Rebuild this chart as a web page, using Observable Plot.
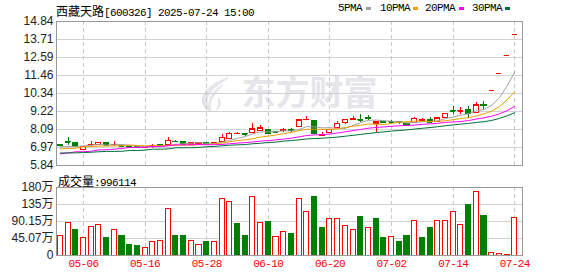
<!DOCTYPE html>
<html><head><meta charset="utf-8">
<script src="https://cdn.jsdelivr.net/npm/d3@7"></script>
<script src="https://cdn.jsdelivr.net/npm/@observablehq/plot@0.6"></script>
<style>
body{margin:0;background:#fff;}
#wrap{position:relative;width:578px;height:276px;overflow:hidden;background:#fff;}
.t{position:absolute;white-space:nowrap;font:11px "Liberation Mono",monospace;letter-spacing:-0.6px;color:#000;line-height:12px;}
.cjk{font:12px "Noto Sans CJK SC";letter-spacing:0;}
.sq{position:absolute;width:5px;height:3px;}
#price,#vol{position:absolute;left:0;}
#logo{position:absolute;left:199px;top:75px;}
</style></head><body>
<div id="wrap">
  <svg id="logo" width="34" height="38" viewBox="0 0 34 38">
    <path d="M30 1 C 20 6, 4 12, 3 24 C 2 32, 8 37, 13 37 C 10 31, 12 24, 17 19 C 22 13, 27 8, 30 1 Z" fill="#e5e5ea"/>
    <path d="M27 6 C 18 12, 9 18, 9 28" stroke="#ffffff" stroke-width="1.6" fill="none"/>
    <path d="M29 4 C 24 12, 15 18, 14 30" stroke="#ffffff" stroke-width="1.2" fill="none"/>
    <path d="M19 22 C 24 26, 22 33, 16 37 C 20 31, 19 27, 19 22 Z" fill="#e5e5ea"/>
  </svg>
  <div id="price" style="top:0"></div>
  <div id="vol" style="top:166px"></div>
  <div class="t" id="title" style="left:56px;top:2px"></div>
  <div class="t" id="volTitle" style="left:58px;top:172px"></div>
</div>
<script>
// ---------- data ----------
const stockName = "西藏天路";
const stockCode = "[600326] 2025-07-24 15:00";
const volLabel = "成交量";
const lastVolume = "996114";
const dates = ["04-28","04-29","04-30","05-06","05-07","05-08","05-09","05-12","05-13","05-14",
"05-15","05-16","05-19","05-20","05-21","05-22","05-23","05-26","05-27","05-28",
"05-29","05-30","06-03","06-04","06-05","06-06","06-09","06-10","06-11","06-12",
"06-13","06-16","06-17","06-18","06-19","06-20","06-23","06-24","06-25","06-26",
"06-27","06-30","07-01","07-02","07-03","07-04","07-07","07-08","07-09","07-10",
"07-11","07-14","07-15","07-16","07-17","07-18","07-21","07-22","07-23","07-24"];
const open = [7.10,7.30,7.22,6.83,7.12,7.13,7.22,7.12,7.09,7.02,
6.99,6.95,7.03,7.10,7.12,7.34,7.28,7.15,7.20,7.22,
7.17,7.28,7.48,7.79,7.81,7.88,8.01,8.05,7.93,7.97,
8.06,8.26,8.69,8.64,7.68,7.88,8.17,8.52,8.70,8.70,
8.80,8.44,8.53,8.56,8.53,8.43,8.52,8.60,8.69,8.58,
8.82,9.25,9.22,9.30,9.13,9.60,10.53,11.58,12.74,14.01];
const high = [7.18,7.57,7.24,7.04,7.34,7.30,7.28,7.32,7.13,7.05,
7.02,7.02,7.15,7.14,7.58,7.42,7.29,7.27,7.28,7.25,
7.29,7.78,7.92,7.90,7.83,8.46,8.32,8.08,7.97,8.13,
8.17,8.70,8.92,8.66,7.92,8.10,8.59,8.72,8.88,9.03,
8.95,8.56,8.55,8.67,8.62,8.55,8.82,8.76,8.82,8.82,
9.10,9.55,9.44,9.53,9.80,9.85,10.53,11.58,12.74,14.01];
const low = [6.95,7.07,6.94,6.81,7.04,7.12,7.10,7.00,7.00,6.95,
6.92,6.90,6.92,7.04,7.10,7.25,7.14,7.13,7.18,7.15,
7.15,7.26,7.45,7.76,7.66,7.86,7.99,7.76,7.88,7.90,
7.92,8.24,8.68,7.80,7.66,7.87,8.15,8.42,8.70,8.55,
8.65,7.90,8.45,8.42,8.38,8.33,8.45,8.56,8.47,8.52,
8.77,9.02,9.00,8.75,9.10,9.36,10.53,11.58,12.74,14.01];
const close = [7.08,7.28,7.01,7.02,7.15,7.27,7.11,7.15,7.05,6.98,
6.95,6.99,7.05,7.08,7.38,7.32,7.16,7.22,7.25,7.18,
7.26,7.57,7.83,7.81,7.79,8.10,8.17,7.83,7.91,8.04,
8.03,8.66,8.71,7.82,7.76,8.06,8.45,8.71,8.72,8.66,
8.77,8.54,8.50,8.54,8.50,8.37,8.76,8.70,8.55,8.80,
9.08,9.23,9.24,9.06,9.62,9.57,10.53,11.58,12.74,14.01];
const preClose = 7.00;
const volume = [504000,866000,663000,477000,760000,813000,477000,689000,504000,283000,
239000,212000,362000,389000,1220000,530000,530000,389000,283000,345000,
362000,1485000,1423000,822000,530000,1556000,866000,901000,495000,628000,
557000,1485000,1158000,1538000,716000,972000,972000,787000,681000,1034000,
734000,981000,451000,495000,371000,504000,919000,477000,716000,919000,
919000,1158000,813000,1343000,1688000,1060000,71000,44000,18000,996114];
// moving-average values before a full window exists
const ma5Head = [7.00,7.02,7.03,7.06];
const ma10Head = [6.88,6.90,6.92,7.00,7.03,7.05,7.06,7.07,7.08];
const ma20Head = [6.57,6.62,6.70,6.70,6.73,6.82,6.82,6.86,6.90,6.97,6.97,6.98,7.03,7.03,7.07,7.13,7.13,7.13,7.15];
const ma30Head = [6.62,6.63,6.63,6.65,6.67,6.70,6.72,6.72,6.73,6.78,6.78,6.80,6.86,6.86,6.88,6.95,6.95,6.95,6.97,7.01,7.03,7.07,7.11,7.13,7.15,7.20,7.23,7.28,7.30];
const priceTicks = [5.84,6.97,8.09,9.22,10.34,11.46,12.59,13.71,14.84];
const volTicks = [0,450750,901500,1352250,1803000];
const volTickLabels = ["0","45.07万","90.15万","135万","180万"];
const axisDates = ["05-06","05-16","05-28","06-10","06-20","07-02","07-14","07-24"];
const maNames = ["5PMA","10PMA","20PMA","30PMA"];
const maPeriods = [5,10,20,30];
const maHeads = [ma5Head, ma10Head, ma20Head, ma30Head];
const watermark = "东方财富";

// ---------- styles ----------
const RED = "#ff0000", GREEN = "#008000";
const maColors = ["#a0a0a0","#f0a000","#ff00ff","#00703a"];
const legendX = [338,380,425,472];
const legendSqX = [366,413,459,505];

// ---------- derived ----------
const bars = dates.map((d,i)=>({i, date:d, open:open[i], high:high[i], low:low[i], close:close[i],
  vol:volume[i], prev: i ? close[i-1] : preClose}));
const candleColor = d => d.close >= d.open ? RED : GREEN;
const volColor = d => d.close >= d.prev ? RED : GREEN;
function ma(n, head){ return close.map((c,i)=> i < n-1 ? head[i] : d3.mean(close.slice(i-n+1,i+1))); }
const maSeries = maPeriods.map((n,k)=>ma(n, maHeads[k]));
const tickIdx = axisDates.map(d=>dates.indexOf(d));
const HW = 0.33;

const maMarks = maSeries.map((s,k)=>Plot.line(bars,{x:"i", y:d=>s[d.i], stroke:maColors[k], strokeWidth:1}));

const price = Plot.plot({
  width:578, height:166, marginLeft:56, marginRight:56, marginTop:21, marginBottom:1,
  style:{background:"transparent", overflow:"visible"},
  x:{domain:[-0.5,60], axis:null},
  y:{domain:[5.84,14.84], axis:null},
  marks:[
    Plot.text([watermark],{frameAnchor:"middle", dx:20, dy:1, fontSize:34, fontWeight:"bold", fontFamily:"Noto Sans CJK SC", fill:"#e5e5ea"}),
    Plot.ruleY(priceTicks,{stroke:"#d2d2d2", shapeRendering:"crispEdges"}),
    Plot.ruleX(tickIdx,{stroke:"#c8c8c8", strokeDasharray:"4,3", shapeRendering:"crispEdges"}),
    Plot.ruleX(bars,{x:"i", y1:"low", y2:"high", stroke:candleColor, shapeRendering:"crispEdges"}),
    Plot.rect(bars,{x1:d=>d.i-HW, x2:d=>d.i+HW, y1:"open", y2:"close", fill:d=>d.close>=d.open?"#ffffff":GREEN, stroke:candleColor, shapeRendering:"crispEdges"}),
    Plot.ruleY(bars,{x1:d=>d.i-HW, x2:d=>d.i+HW, y:"close", stroke:candleColor, shapeRendering:"crispEdges"}),
    ...maMarks,
    Plot.frame({stroke:"#999999", shapeRendering:"crispEdges"}),
    Plot.text(priceTicks,{y:d=>d, text:d=>d.toFixed(2), frameAnchor:"left", dx:-3, textAnchor:"end", fontSize:12, fontFamily:"Liberation Sans", fill:"#222"})
  ]
});
document.getElementById("price").append(price);

const vol = Plot.plot({
  width:578, height:110, marginLeft:56, marginRight:56, marginTop:21, marginBottom:21,
  style:{background:"transparent", overflow:"visible"},
  x:{domain:[-0.5,60], axis:null},
  y:{domain:[0,1803000], axis:null},
  marks:[
    Plot.ruleY(volTicks,{stroke:"#d2d2d2", shapeRendering:"crispEdges"}),
    Plot.ruleX(tickIdx,{stroke:"#c8c8c8", strokeDasharray:"4,3", shapeRendering:"crispEdges"}),
    Plot.rect(bars,{x1:d=>d.i-HW, x2:d=>d.i+HW, y1:d=>0, y2:"vol", fill:d=>volColor(d)===RED?"#ffffff":GREEN, stroke:volColor, shapeRendering:"crispEdges"}),
    Plot.frame({stroke:"#999999", shapeRendering:"crispEdges"}),
    Plot.text(volTicks,{y:d=>d, text:(d,i)=>volTickLabels[i], frameAnchor:"left", dx:-3, textAnchor:"end", fontSize:12, fontFamily:"Liberation Sans, Noto Sans CJK SC", fill:"#222"}),
    Plot.text(axisDates,{x:d=>dates.indexOf(d), text:d=>d, frameAnchor:"bottom", dy:11, fill:RED, fontSize:11, fontFamily:"Liberation Mono"})
  ]
});
document.getElementById("vol").append(vol);
vol.querySelectorAll('g[fill="#ff0000"] text').forEach(t=>t.setAttribute("letter-spacing","-0.6"));

// ---------- header texts ----------
const title = document.getElementById("title");
const sp = document.createElement("span"); sp.className="cjk"; sp.textContent=stockName;
title.append(sp, document.createTextNode(stockCode));
const vt = document.getElementById("volTitle");
const sp2 = document.createElement("span"); sp2.className="cjk"; sp2.textContent=volLabel;
vt.append(sp2, document.createTextNode(":" + lastVolume));
const wrap = document.getElementById("wrap");
maNames.forEach((n,k)=>{
  const t = document.createElement("div"); t.className="t"; t.style.left=legendX[k]+"px"; t.style.top="2px"; t.textContent=n;
  const s = document.createElement("div"); s.className="sq"; s.style.left=legendSqX[k]+"px"; s.style.top="7px"; s.style.background=maColors[k];
  wrap.append(t,s);
});
</script>
</body></html>
